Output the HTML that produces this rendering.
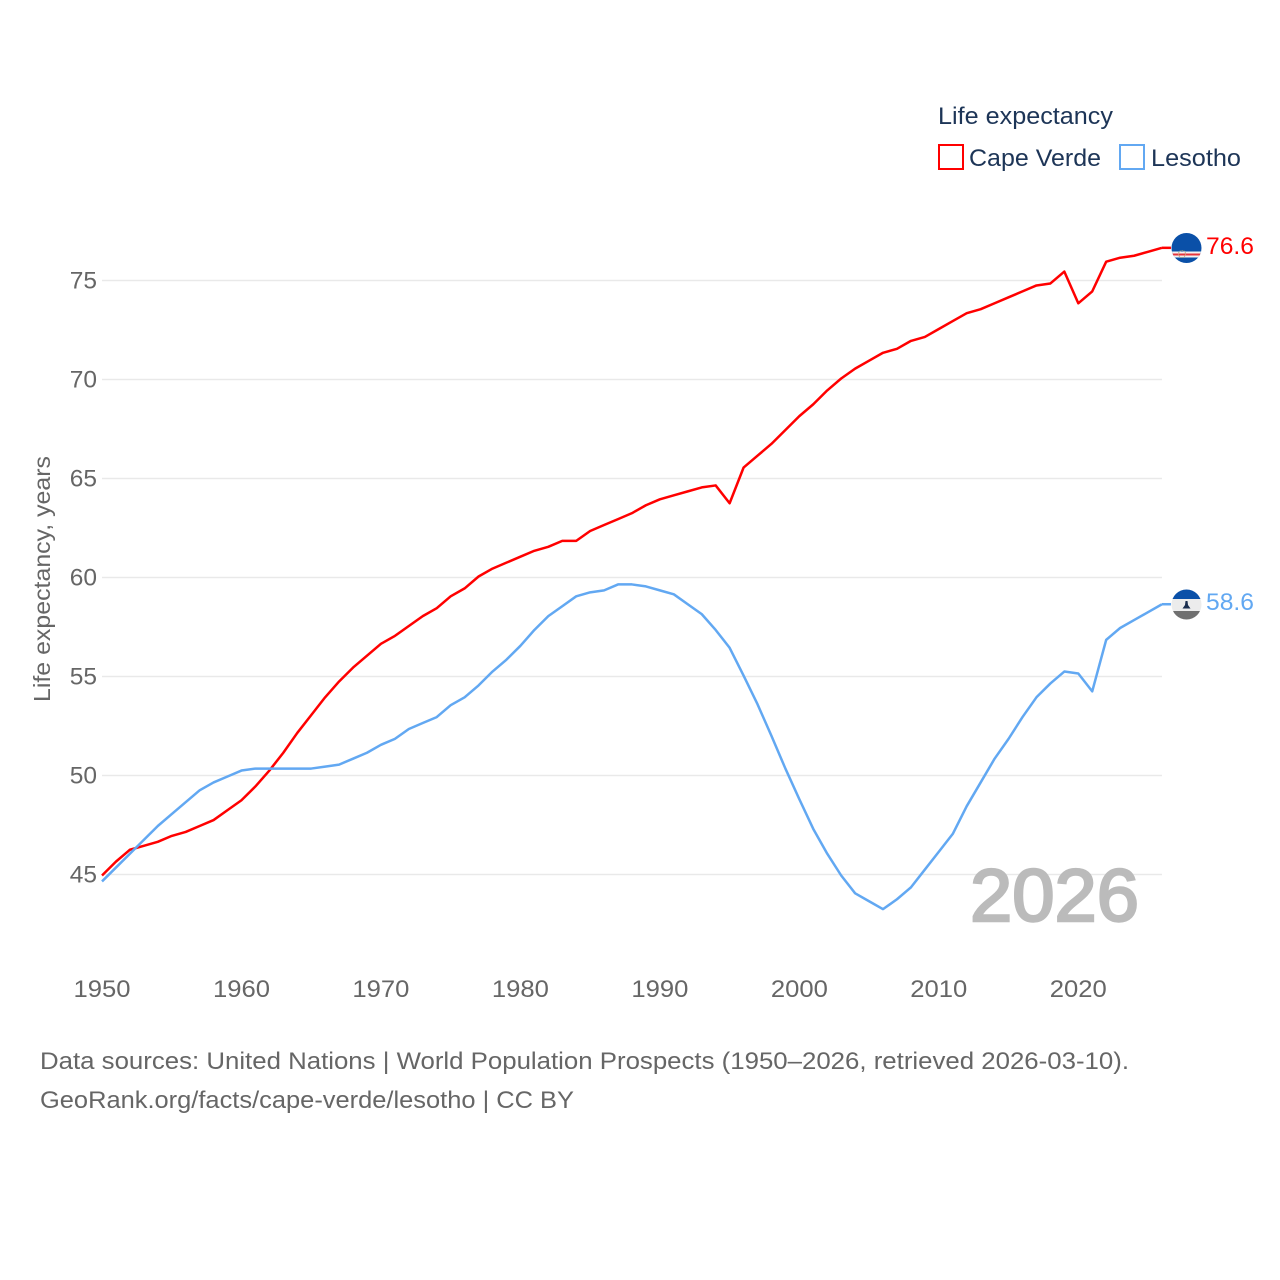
<!DOCTYPE html>
<html lang="en">
<head>
<meta charset="utf-8">
<title>Life expectancy: Cape Verde and Lesotho</title>
<style>
html,body{margin:0;padding:0;background:#fff;}
svg{display:block;}
text{font-family:"Liberation Sans",sans-serif;}
</style>
</head>
<body>
<svg id="chart" width="1280" height="1280" viewBox="0 0 1280 1280" xmlns="http://www.w3.org/2000/svg">
  <rect x="0" y="0" width="1280" height="1280" fill="#ffffff"/>
  <g id="grid"></g>
  <g id="y-ticks"></g>
  <g id="x-ticks"></g>
  <text transform="translate(50,702) rotate(-90)" font-size="23.5" fill="#666666" textLength="246" lengthAdjust="spacingAndGlyphs">Life expectancy, years</text>

  <text x="970" y="921" font-size="74" font-weight="400" fill="#bbbbbb" stroke="#bbbbbb" stroke-width="2.4" textLength="169" lengthAdjust="spacingAndGlyphs">2026</text>

  <g id="series"></g>

  <g>
    <text x="938" y="124" font-size="24.5" fill="#1d3557" textLength="175" lengthAdjust="spacingAndGlyphs">Life expectancy</text>
    <g>
      <rect x="939" y="145" width="24" height="24" fill="none" stroke="#ff0000" stroke-width="2"/>
      <text x="969" y="166" font-size="24.5" fill="#1d3557" textLength="132" lengthAdjust="spacingAndGlyphs">Cape Verde</text>
    </g>
    <g>
      <rect x="1120" y="145" width="24" height="24" fill="none" stroke="#62a8f2" stroke-width="2"/>
      <text x="1151" y="166" font-size="24.5" fill="#1d3557" textLength="90" lengthAdjust="spacingAndGlyphs">Lesotho</text>
    </g>
  </g>

  <defs>
    <clipPath id="clip-cv"><circle cx="1186.5" cy="248" r="15"/></clipPath>
    <clipPath id="clip-ls"><circle cx="1186.5" cy="604.5" r="15"/></clipPath>
  </defs>
  <g id="flag-cv" clip-path="url(#clip-cv)">
    <rect x="1171" y="233" width="31" height="31" fill="#0a50a8"/>
    <rect x="1171" y="251.5" width="31" height="2" fill="#f2f2f2"/>
    <rect x="1171" y="253.5" width="31" height="2" fill="#e8343c"/>
    <rect x="1171" y="255.5" width="31" height="2" fill="#f2f2f2"/>
    <circle cx="1182" cy="254" r="3.5" fill="none" stroke="#b5a96a" stroke-width="1" stroke-dasharray="1 1"/>
  </g>
  <g id="flag-ls" clip-path="url(#clip-ls)">
    <rect x="1171" y="589" width="31" height="10" fill="#0a50a8"/>
    <rect x="1171" y="599" width="31" height="12" fill="#ececec"/>
    <rect x="1171" y="611" width="31" height="10" fill="#707070"/>
    <path d="M1185.500 601 h2 l0.500 4 l2.500 3.500 h-8 l2.500 -3.500 z" fill="#1a2e4f"/>
  </g>

  <g>
    <text x="40" y="1069" font-size="24.500" fill="#666666" textLength="1089" lengthAdjust="spacingAndGlyphs">Data sources: United Nations | World Population Prospects (1950–2026, retrieved 2026-03-10).</text>
    <text x="40" y="1108" font-size="24.500" fill="#666666" textLength="534" lengthAdjust="spacingAndGlyphs">GeoRank.org/facts/cape-verde/lesotho | CC BY</text>
  </g>
</svg>
<script>
const years = [1950,1951,1952,1953,1954,1955,1956,1957,1958,1959,1960,1961,1962,1963,1964,1965,1966,1967,1968,1969,1970,1971,1972,1973,1974,1975,1976,1977,1978,1979,1980,1981,1982,1983,1984,1985,1986,1987,1988,1989,1990,1991,1992,1993,1994,1995,1996,1997,1998,1999,2000,2001,2002,2003,2004,2005,2006,2007,2008,2009,2010,2011,2012,2013,2014,2015,2016,2017,2018,2019,2020,2021,2022,2023,2024,2025,2026];
const capeVerde = [44.95,45.65,46.25,46.45,46.65,46.95,47.15,47.45,47.75,48.25,48.75,49.45,50.25,51.15,52.15,53.05,53.95,54.75,55.45,56.05,56.65,57.05,57.55,58.05,58.45,59.05,59.45,60.05,60.45,60.75,61.05,61.35,61.55,61.85,61.85,62.35,62.65,62.95,63.25,63.65,63.95,64.15,64.35,64.55,64.65,63.75,65.55,66.15,66.75,67.45,68.15,68.75,69.45,70.05,70.55,70.95,71.35,71.55,71.95,72.15,72.55,72.95,73.35,73.55,73.85,74.15,74.45,74.75,74.85,75.45,73.85,74.45,75.95,76.15,76.25,76.45,76.65];
const lesotho = [44.65,45.35,46.05,46.75,47.45,48.05,48.65,49.25,49.65,49.95,50.25,50.35,50.35,50.35,50.35,50.35,50.45,50.55,50.85,51.15,51.55,51.85,52.35,52.65,52.95,53.55,53.95,54.55,55.25,55.85,56.55,57.35,58.05,58.55,59.05,59.25,59.35,59.65,59.65,59.55,59.35,59.15,58.65,58.15,57.35,56.45,55.05,53.6,52.0,50.35,48.8,47.3,46.05,44.95,44.05,43.65,43.25,43.75,44.35,45.25,46.15,47.05,48.45,49.65,50.85,51.85,52.95,53.95,54.65,55.25,55.15,54.25,56.85,57.45,57.85,58.25,58.65];
const yTickLabels = [45,50,55,60,65,70,75];
const xTickLabels = [1950,1960,1970,1980,1990,2000,2010,2020];

const NS = 'http://www.w3.org/2000/svg';
const xScale = function (year) { return 102 + (year - 1950) * 13.947; };
const yScale = function (value) { return 874.5 - (value - 45) * 19.8; };

function make(tag, attrs, parent) {
  const el = document.createElementNS(NS, tag);
  Object.keys(attrs).forEach(function (k) { el.setAttribute(k, attrs[k]); });
  parent.appendChild(el);
  return el;
}

const gridGroup = document.getElementById('grid');
const yGroup = document.getElementById('y-ticks');
const xGroup = document.getElementById('x-ticks');
const seriesGroup = document.getElementById('series');

yTickLabels.forEach(function (v) {
  const line = make('line', { x1: xScale(1950), x2: xScale(2026), y1: yScale(v), y2: yScale(v), stroke: '#e9e9e9', 'stroke-width': 1.4 }, gridGroup);
  
  
  const label = make('text', { x: 97, y: yScale(v) + 8, 'text-anchor': 'end', 'font-size': 24.5, fill: '#666666' }, yGroup);
  
  
  label.textContent = String(v);
});

xTickLabels.forEach(function (t) {
  const label = make('text', { x: xScale(t), y: 997, 'text-anchor': 'middle', 'font-size': 24.5, fill: '#666666', textLength: 57, lengthAdjust: 'spacingAndGlyphs' }, xGroup);
  
  
  label.textContent = String(t);
});

function pointsFor(values) {
  return values.map(function (v, i) { return xScale(years[i]).toFixed(2) + ',' + yScale(v).toFixed(2); }).join(' ');
}

function drawSeries(values, color, key) {
  const lastValue = values[values.length - 1];
  const lastX = xScale(years[years.length - 1]);
  const line = make('polyline', { points: pointsFor(values), fill: 'none', stroke: color, 'stroke-width': 2.5, 'stroke-linejoin': 'round' }, seriesGroup);
  
  
  const connector = make('line', { x1: lastX, x2: lastX + 9, y1: yScale(lastValue), y2: yScale(lastValue), stroke: color, 'stroke-width': 2.5 }, seriesGroup);
  
  
  const label = make('text', { x: 1206, y: yScale(lastValue) + 6, 'font-size': 24.5, fill: color, textLength: 48, lengthAdjust: 'spacingAndGlyphs' }, seriesGroup);
  
  
  label.textContent = (Math.floor(lastValue * 10) / 10).toFixed(1);
}

drawSeries(capeVerde, '#ff0000', 'cape-verde');
drawSeries(lesotho, '#62a8f2', 'lesotho');
</script>
</body>
</html>
